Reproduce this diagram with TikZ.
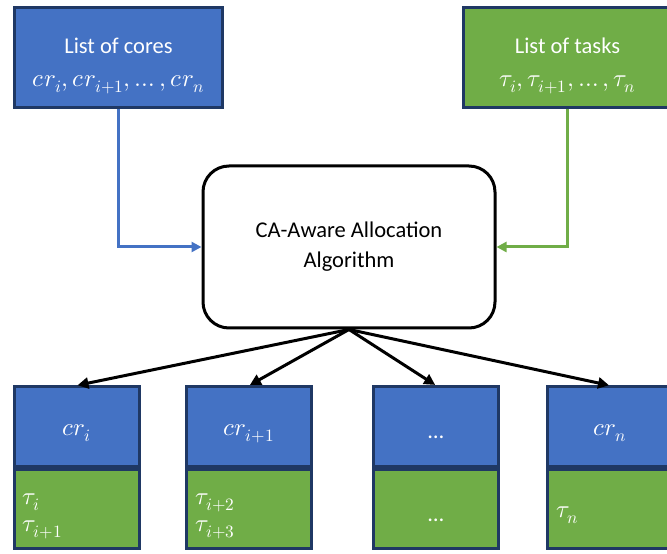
\documentclass[tikz,border=0pt]{standalone}
\usepackage{fontspec}
\usepackage{unicode-math}
\setmainfont{Carlito}
\setmathfont{Latin Modern Math}[Scale=1.1]
\usetikzlibrary{arrows.meta}
\definecolor{coreblue}{HTML}{4472C4}
\definecolor{taskgreen}{HTML}{70AD47}
\definecolor{navy}{HTML}{1F3864}
% invisible strut that pushes the first line of a box down
\newcommand{\lowerfirst}[1]{\rule{0pt}{#1}}
\begin{document}
\begin{tikzpicture}[x=1pt,y=1pt,
  txt/.style={font=\fontsize{22.5}{33}\selectfont},
  listbox/.style={txt, draw=navy, line width=3pt, text=white, align=center,
    minimum width=208pt, minimum height=100pt, inner sep=0pt},
  algbox/.style={txt, draw=black, line width=3pt, rounded corners=26pt, align=center,
    minimum width=292pt, minimum height=162pt, inner sep=0pt,
    font=\fontsize{22.5}{30}\selectfont},
  corebox/.style={txt, draw=navy, line width=3pt, fill=coreblue, text=white,
    minimum width=125pt, minimum height=80pt, inner sep=0pt},
  taskbox/.style={draw=navy, line width=3pt, fill=taskgreen, text=white,
    minimum width=125pt, minimum height=79pt, inner xsep=9pt, inner ysep=0pt,
    text width=107pt, font=\fontsize{22.5}{27}\selectfont},
  feed/.style={line width=3pt, -{Triangle[length=10pt,width=10pt]}},
  spread/.style={line width=3pt, black, -{Triangle[length=11pt,width=11pt]}, shorten >=1pt}
]
\useasboundingbox (0,0) rectangle (667,554);

% input lists
\node[listbox, fill=coreblue] (cores) at (118.5,496)
  {\lowerfirst{32pt}List of cores\\ $cr_i, cr_{i+1}, \ldots, cr_n$};
\node[listbox, fill=taskgreen] (tasks) at (567.5,496)
  {\lowerfirst{32pt}List of tasks\\ $\tau_i, \tau_{i+1}, \ldots, \tau_n$};

% allocation algorithm
\node[algbox] (alg) at (349,307) {CA-Aware Allocation\\ Algorithm};

\draw[feed, coreblue] (cores.south) |- (alg.west);
\draw[feed, taskgreen] (tasks.south) |- (alg.east);

% per-core allocations
\node[corebox] (c1) at (76.5,127) {\lowerfirst{24pt}$cr_i$};
\node[taskbox, anchor=north] (t1) at (c1.south) {\lowerfirst{24pt}$\tau_i$\\ $\tau_{i+1}$};

\node[corebox] (c2) at (249,127) {\lowerfirst{24pt}$cr_{i+1}$};
\node[taskbox, anchor=north] (t2) at (c2.south) {\lowerfirst{24pt}$\tau_{i+2}$\\ $\tau_{i+3}$};

\node[corebox] (c3) at (436,127) {\lowerfirst{24pt}…};
\node[taskbox, anchor=north, align=center] (t3) at (c3.south) {\lowerfirst{24pt}…};

\node[corebox] (c4) at (610,127) {\lowerfirst{24pt}$cr_n$};
\node[taskbox, anchor=north] (t4) at (c4.south) {\lowerfirst{22pt}$\tau_n$};

\foreach \c in {c1,c2,c3,c4}
  \draw[spread] (alg.south) -- (\c.north);
\end{tikzpicture}
\end{document}
